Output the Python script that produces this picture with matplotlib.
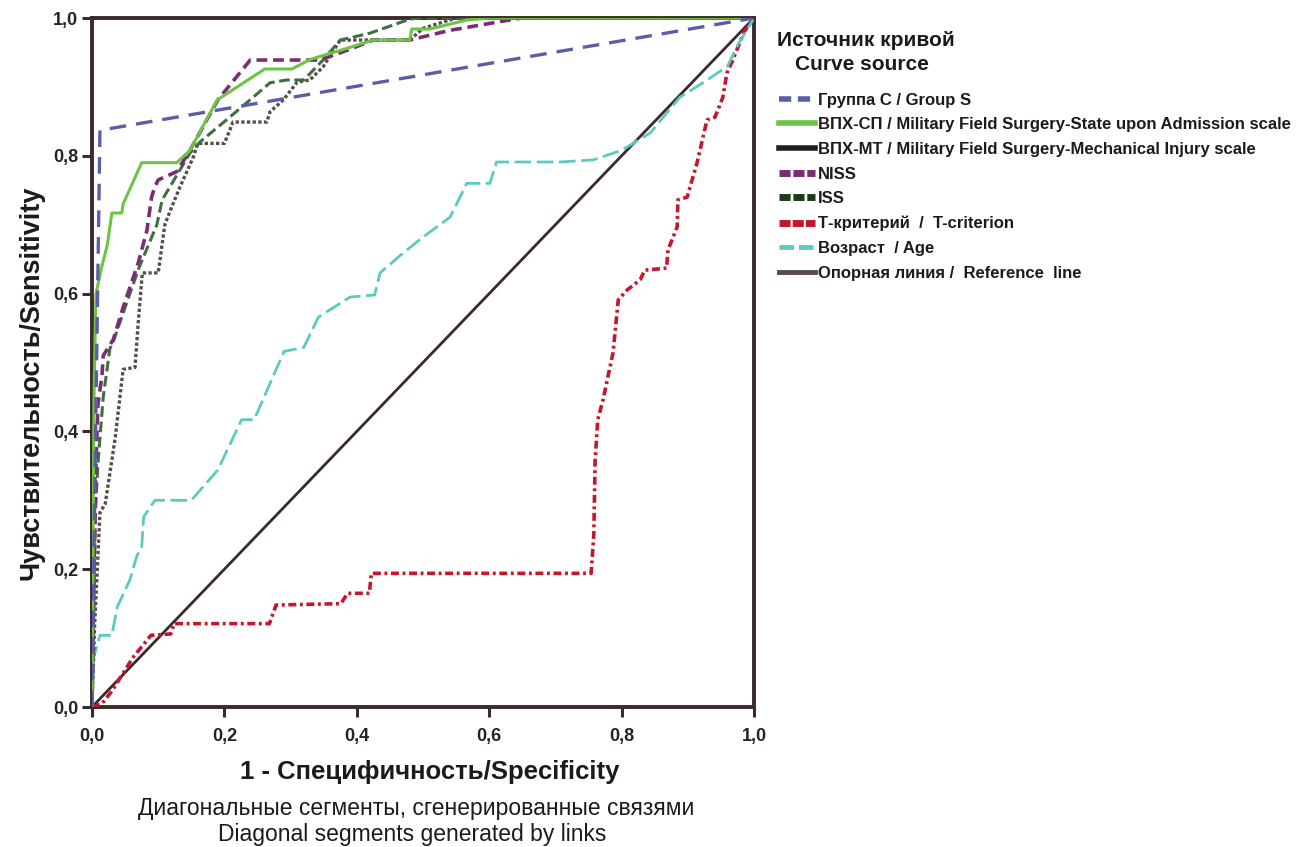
import matplotlib
matplotlib.use("Agg")
import matplotlib.pyplot as plt
from matplotlib.lines import Line2D
from matplotlib.ticker import FixedLocator, FuncFormatter

plt.rcParams['font.family'] = ['Liberation Sans Narrow', 'Liberation Sans', 'DejaVu Sans']

# ROC curves: (1 - specificity, sensitivity)
group_s_x = [0, 0.004, 0.012, 1.0]
group_s_y = [0, 0.30, 0.837, 1.0]

vph_sp_x = [0, 0.003, 0.006, 0.015, 0.023, 0.030, 0.045, 0.047, 0.075, 0.128, 0.148,
            0.189, 0.261, 0.302, 0.330, 0.385, 0.425, 0.480, 0.483, 0.510, 0.566, 0.600, 1.0]
vph_sp_y = [0, 0.45, 0.60, 0.64, 0.67, 0.717, 0.717, 0.73, 0.79, 0.79, 0.808,
            0.881, 0.926, 0.926, 0.94, 0.956, 0.968, 0.968, 0.984, 0.984, 0.997, 1.0, 1.0]

vph_mt_x = [0, 0.004, 0.008, 0.012, 0.020, 0.035, 0.047, 0.065, 0.070, 0.076, 0.100,
            0.110, 0.118, 0.133, 0.153, 0.160, 0.200, 0.213, 0.264, 0.269, 0.289, 0.310,
            0.329, 0.349, 0.375, 0.480, 0.500, 0.550, 1.0]
vph_mt_y = [0, 0.12, 0.20, 0.282, 0.295, 0.39, 0.49, 0.493, 0.56, 0.63, 0.63,
            0.70, 0.72, 0.755, 0.798, 0.818, 0.818, 0.849, 0.849, 0.864, 0.881, 0.907,
            0.91, 0.929, 0.968, 0.968, 0.985, 1.0, 1.0]

niss_x = [0, 0.003, 0.006, 0.009, 0.015, 0.017, 0.032, 0.047, 0.070, 0.083, 0.090,
          0.095, 0.100, 0.128, 0.148, 0.190, 0.239, 0.344, 0.385, 0.425, 0.480, 0.540,
          0.630, 0.650, 1.0]
niss_y = [0, 0.20, 0.35, 0.44, 0.48, 0.51, 0.533, 0.58, 0.645, 0.692, 0.74,
          0.755, 0.765, 0.777, 0.808, 0.881, 0.939, 0.939, 0.953, 0.968, 0.968, 0.982,
          0.997, 1.0, 1.0]

iss_x = [0, 0.003, 0.005, 0.009, 0.017, 0.027, 0.032, 0.050, 0.070, 0.085, 0.098,
         0.106, 0.148, 0.163, 0.208, 0.269, 0.294, 0.320, 0.349, 0.375, 0.420, 0.476,
         0.490, 1.0]
iss_y = [0, 0.15, 0.28, 0.354, 0.45, 0.52, 0.53, 0.58, 0.635, 0.67, 0.70,
         0.736, 0.804, 0.82, 0.856, 0.906, 0.91, 0.91, 0.939, 0.968, 0.978, 0.997,
         1.0, 1.0]

t_crit_x = [0, 0.015, 0.030, 0.062, 0.089, 0.119, 0.124, 0.268, 0.278, 0.376, 0.386,
            0.419, 0.422, 0.754, 0.758, 0.760, 0.764, 0.772, 0.787, 0.795, 0.808, 0.828,
            0.835, 0.868, 0.870, 0.884, 0.885, 0.899, 0.914, 0.929, 0.941, 0.953, 0.959,
            0.968, 0.985, 1.0]
t_crit_y = [0, 0.005, 0.023, 0.072, 0.104, 0.106, 0.121, 0.121, 0.148, 0.15, 0.165,
            0.165, 0.194, 0.194, 0.25, 0.358, 0.417, 0.446, 0.514, 0.591, 0.605, 0.62,
            0.634, 0.637, 0.663, 0.697, 0.736, 0.74, 0.79, 0.852, 0.856, 0.885, 0.92,
            0.939, 0.98, 1.0]

age_x = [0, 0.002, 0.012, 0.030, 0.038, 0.057, 0.068, 0.075, 0.078, 0.095, 0.150,
         0.190, 0.226, 0.245, 0.290, 0.320, 0.342, 0.390, 0.427, 0.435, 0.470, 0.500,
         0.541, 0.566, 0.601, 0.611, 0.707, 0.757, 0.800, 0.843, 0.888, 0.923, 0.960,
         0.975, 1.0]
age_y = [0, 0.07, 0.104, 0.104, 0.145, 0.184, 0.22, 0.23, 0.276, 0.30, 0.30,
         0.344, 0.417, 0.417, 0.516, 0.522, 0.566, 0.595, 0.598, 0.63, 0.659, 0.682,
         0.711, 0.76, 0.76, 0.791, 0.791, 0.794, 0.808, 0.833, 0.885, 0.906, 0.93,
         0.96, 1.0]

ref_x = [0, 1]
ref_y = [0, 1]

legend_labels = [
    "Группа С / Group S",
    "ВПХ-СП / Military Field Surgery-State upon Admission scale",
    "ВПХ-МТ / Military Field Surgery-Mechanical Injury scale",
    "NISS",
    "ISS",
    "Т-критерий  /  T-criterion",
    "Возраст  / Age",
    "Опорная линия /  Reference  line",
]
ticks = [0.0, 0.2, 0.4, 0.6, 0.8, 1.0]

BLUE = "#5b5ea6"
GREEN = "#6cc445"
BLACK = "#231f20"
MT_GREY = "#5a4c4a"
PURPLE = "#7b2c72"
DGREEN = "#3f6f3f"
RED = "#c4172c"
CYAN = "#5ccac0"
REF = "#3a2a28"
SPINE = "#3b2b2a"

fig = plt.figure(figsize=(12.96, 8.47), dpi=100)
ax = fig.add_axes([92 / 1296, 1 - 707 / 847, 662 / 1296, 689 / 847])

ax.plot(ref_x, ref_y, color=REF, lw=2.0, zorder=2)
ax.plot(t_crit_x, t_crit_y, color=RED, lw=2.6, dashes=(2.2, 1.0, 0.8, 1.0), zorder=3)
ax.plot(age_x, age_y, color=CYAN, lw=2.0, dashes=(6, 2), zorder=3)
ax.plot(vph_mt_x, vph_mt_y, color=MT_GREY, lw=2.4, dashes=(1.0, 0.7), zorder=3)
ax.plot(iss_x, iss_y, color=DGREEN, lw=2.2, dashes=(3.5, 1.5), zorder=4)
ax.plot(niss_x, niss_y, color=PURPLE, lw=2.6, dashes=(3.0, 1.6), zorder=4)
ax.plot(vph_sp_x, vph_sp_y, color=GREEN, lw=2.2, zorder=5)
ax.plot(group_s_x, group_s_y, color=BLUE, lw=2.4, dashes=(5.0, 3.0), zorder=5)

ax.set_xlim(0, 1)
ax.set_ylim(0, 1)
for sp in ax.spines.values():
    sp.set_color(SPINE)
    sp.set_linewidth(2.8)
ax.xaxis.set_major_locator(FixedLocator(ticks))
ax.yaxis.set_major_locator(FixedLocator(ticks))
fmt = FuncFormatter(lambda v, p: f"{v:.1f}".replace(".", ","))
ax.xaxis.set_major_formatter(fmt)
ax.yaxis.set_major_formatter(fmt)
ax.tick_params(direction="out", length=7, width=2.2, color=SPINE, labelsize=13)
ax.tick_params(axis="x", pad=8)
ax.tick_params(axis="y", pad=3)
for lab in ax.get_xticklabels() + ax.get_yticklabels():
    lab.set_fontweight("bold")
    lab.set_color("#2a2222")

fig.text(32 / 1296, 1 - 383 / 847, "Чувствительность/Sensitivity", rotation=90,
         ha="center", va="center", fontsize=19.5, fontweight="bold", color="#1e1a1a")
fig.text(430 / 1296, 1 - 772 / 847, "1 - Специфичность/Specificity",
         ha="center", va="center", fontsize=18.5, fontweight="bold", color="#1e1a1a")
fig.text(416 / 1296, 1 - 808 / 847, "Диагональные сегменты, сгенерированные связями",
         ha="center", va="center", fontsize=16.5, color="#1e1a1a")
fig.text(412 / 1296, 1 - 834 / 847, "Diagonal segments generated by links",
         ha="center", va="center", fontsize=16.5, color="#1e1a1a")

fig.text(777 / 1296, 1 - 41 / 847, "Источник кривой", ha="left", va="center",
         fontsize=15, fontweight="bold", color="#1e1a1a")
fig.text(795 / 1296, 1 - 64 / 847, "Curve source", ha="left", va="center",
         fontsize=15, fontweight="bold", color="#1e1a1a")

handles = [
    Line2D([], [], color=BLUE, lw=4, dashes=(2.2, 1.2)),
    Line2D([], [], color=GREEN, lw=4),
    Line2D([], [], color=BLACK, lw=4),
    Line2D([], [], color=PURPLE, lw=5, dashes=(1.6, 0.4)),
    Line2D([], [], color="#1e3a1e", lw=5, dashes=(1.6, 0.4)),
    Line2D([], [], color=RED, lw=5, dashes=(1.6, 0.3)),
    Line2D([], [], color=CYAN, lw=3.5, dashes=(3, 1)),
    Line2D([], [], color="#5a4a48", lw=3.5),
]
leg = fig.legend(handles, legend_labels, loc="upper left",
                 bbox_to_anchor=(772 / 1296, 1 - 86 / 847), frameon=False,
                 handlelength=2.2, handletextpad=0.15, labelspacing=0.58,
                 prop={"size": 12, "weight": "bold"}, borderaxespad=0)
for t in leg.get_texts():
    t.set_color("#1e1a1a")

fig.savefig("out.png", dpi=100)
